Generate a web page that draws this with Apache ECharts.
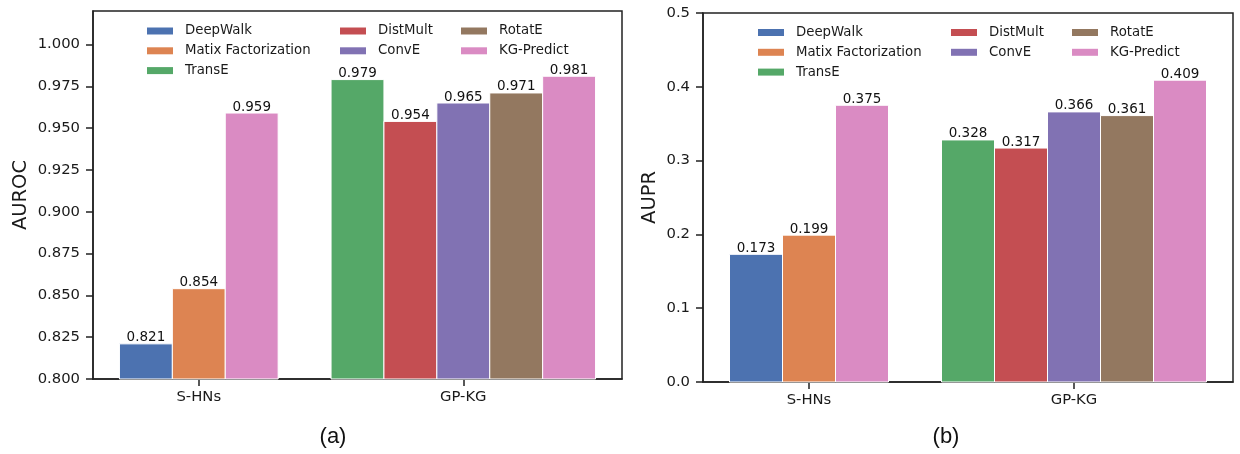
<!DOCTYPE html>
<html>
<head>
<meta charset="utf-8">
<script src="https://cdn.jsdelivr.net/npm/echarts@6/dist/echarts.min.js"></script>
<style>html,body{margin:0;padding:0;background:#fff;}#chart{width:1240px;height:454px;}</style>
</head>
<body>
<div id="chart"></div>
<script>
// ---- data ----
const categories = ['S-HNs', 'GP-KG'];
const methods = ['DeepWalk', 'Matix Factorization', 'TransE', 'DistMult', 'ConvE', 'RotatE', 'KG-Predict'];
const colors = ['#4C72B0', '#DD8452', '#55A868', '#C44E52', '#8172B3', '#937860', '#DA8BC3'];
// values per category, in method order (null = method not evaluated)
const aurocSHNs = [0.821, 0.854, null, null, null, null, 0.959];
const aurocGPKG = [null, null, 0.979, 0.954, 0.965, 0.971, 0.981];
const auprSHNs  = [0.173, 0.199, null, null, null, null, 0.375];
const auprGPKG  = [null, null, 0.328, 0.317, 0.366, 0.361, 0.409];
const aurocTicks = [0.800, 0.825, 0.850, 0.875, 0.900, 0.925, 0.950, 0.975, 1.000];
const auprTicks  = [0.0, 0.1, 0.2, 0.3, 0.4, 0.5];
const legendCols = [['DeepWalk', 'Matix Factorization', 'TransE'], ['DistMult', 'ConvE'], ['RotatE', 'KG-Predict']];

// ---- layout helpers ----
const GROUP_SPACING = 5;
const FONT = 'DejaVu Sans';
const TEXT = '#1a1a1a';
const categoryCenters = categories.map((c, i) => i * GROUP_SPACING);

function buildSeries(groups, gridIndex, baseline, digits) {
  const positions = methods.map(() => []);
  groups.forEach((vals, gi) => {
    const present = [];
    vals.forEach((v, mi) => { if (v !== null) present.push(mi); });
    const n = present.length;
    present.forEach((mi, k) => {
      positions[mi].push([categoryCenters[gi] + (k - (n - 1) / 2), vals[mi]]);
    });
  });
  return methods.map((name, mi) => ({
    type: 'custom',
    name: name,
    xAxisIndex: gridIndex,
    yAxisIndex: gridIndex,
    itemStyle: { color: colors[mi] },
    data: positions[mi],
    renderItem: function (params, api) {
      const x = api.value(0), y = api.value(1);
      const p0 = api.coord([x - 0.5, y]);
      const p1 = api.coord([x + 0.5, baseline]);
      return {
        type: 'group',
        children: [
          { type: 'rect', shape: { x: p0[0], y: p0[1], width: p1[0] - p0[0], height: p1[1] - p0[1] },
            style: { fill: colors[mi], stroke: '#ffffff', lineWidth: 1 } },
          { type: 'text', x: (p0[0] + p1[0]) / 2, y: p0[1] + 1,
            style: { text: y.toFixed(digits), align: 'center', verticalAlign: 'bottom',
                     font: '13.5px "' + FONT + '"', fill: '#111' } }
        ]
      };
    }
  }));
}

function makeLegends(lefts, top) {
  return legendCols.map((names, i) => ({
    data: names.map(n => ({ name: n, icon: 'rect' })),
    orient: 'vertical',
    left: lefts[i], top: top,
    padding: 0,
    itemWidth: 26, itemHeight: 7, itemGap: 5.8,
    selectedMode: false,
    textStyle: { fontFamily: FONT, fontSize: 13.3, color: TEXT, lineHeight: 14, padding: [0, 0, 0, 7] }
  }));
}

function xAxis(gridIndex) {
  return {
    type: 'value', gridIndex: gridIndex, min: -2, max: 8,
    axisLine: { show: true, onZero: false, lineStyle: { color: '#222', width: 1.5 } },
    axisTick: { show: true, length: 7, customValues: categoryCenters, lineStyle: { color: '#222', width: 1.5 } },
    axisLabel: { customValues: categoryCenters, margin: 11, fontFamily: FONT, fontSize: 14.8, color: TEXT,
      formatter: v => categories[categoryCenters.indexOf(v)] || '' },
    splitLine: { show: false }
  };
}

function yAxis(gridIndex, min, max, ticks, digits, name, nameGap) {
  return {
    type: 'value', gridIndex: gridIndex, min: min, max: max,
    name: name, nameLocation: 'middle', nameRotate: 90, nameGap: nameGap,
    nameTextStyle: { fontFamily: FONT, fontSize: 19.5, color: TEXT },
    axisLine: { show: true, onZero: false, lineStyle: { color: '#222', width: 1.5 } },
    axisTick: { show: true, length: 7, customValues: ticks, lineStyle: { color: '#222', width: 1.5 } },
    axisLabel: { customValues: ticks, margin: 13, fontFamily: FONT, fontSize: 14.8, color: TEXT,
      formatter: v => v.toFixed(digits) },
    splitLine: { show: false }
  };
}

const chart = echarts.init(document.getElementById('chart'), null, { renderer: 'canvas' });
chart.setOption({
  backgroundColor: '#ffffff',
  animation: false,
  grid: [
    { left: 93, top: 11, width: 529, height: 368, show: true, borderColor: '#222', borderWidth: 1.5, backgroundColor: 'transparent' },
    { left: 703, top: 13, width: 530, height: 369, show: true, borderColor: '#222', borderWidth: 1.5, backgroundColor: 'transparent' }
  ],
  xAxis: [xAxis(0), xAxis(1)],
  yAxis: [
    yAxis(0, 0.8, 1.02, aurocTicks, 3, 'AUROC', 62),
    yAxis(1, 0, 0.5, auprTicks, 1, 'AUPR', 43)
  ],
  legend: makeLegends([147, 340, 461], 24).concat(makeLegends([758, 951, 1072], 25.5)),
  graphic: [
    { type: 'text', x: 333, y: 437, style: { text: '(a)', font: '22px "Liberation Sans"', fill: '#111', align: 'center', verticalAlign: 'middle' } },
    { type: 'text', x: 946, y: 437, style: { text: '(b)', font: '22px "Liberation Sans"', fill: '#111', align: 'center', verticalAlign: 'middle' } }
  ],
  series: buildSeries([aurocSHNs, aurocGPKG], 0, 0.8, 3).concat(buildSeries([auprSHNs, auprGPKG], 1, 0, 3))
});
</script>
</body>
</html>
